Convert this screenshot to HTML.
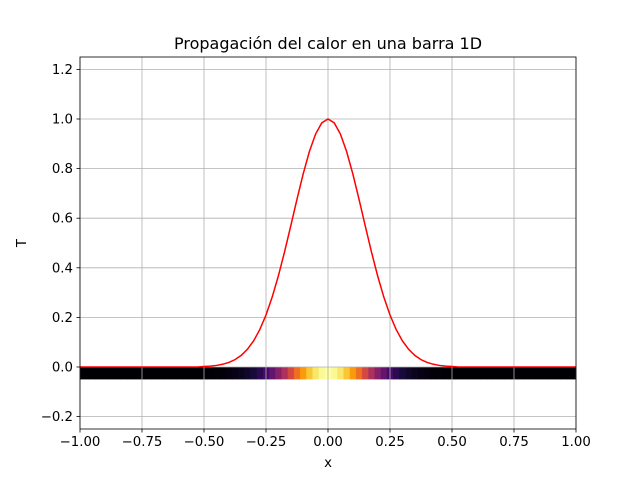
<!DOCTYPE html>
<html><head><meta charset="utf-8"><style>
body{margin:0;background:#fff;}
svg{font-family:"DejaVu Sans","Liberation Sans",sans-serif;}
</style></head><body>
<svg id="chart" width="640" height="480" viewBox="0 0 640 480">
<rect x="0" y="0" width="640" height="480" fill="#fff"/>
<g id="cells"></g>
<g id="grid"></g>
<g id="ticks"></g>
<polyline id="curve" fill="none" stroke="#ff0000" stroke-width="1.5"/>
<rect x="80" y="57" width="496" height="372" fill="none" stroke="#000" stroke-width="0.8"/>
<text x="328" y="49" text-anchor="middle" font-size="16">Propagación del calor en una barra 1D</text>
<text x="328" y="467" text-anchor="middle" font-size="13.3">x</text>
<text x="26" y="243" text-anchor="middle" font-size="13.3" transform="rotate(-90 26 243)">T</text>
</svg>
<script>
const xs = [];
const halfValues = [1,0.9845,0.9394,0.8688,0.7788,0.6766,0.5698,0.4650,0.3679,0.2821,0.2096,0.1510,0.1054,0.0713,0.0468,0.0297,0.0183,0.0109,0.0063,0.0036,0.0019];
const xTicks = [-1,-0.75,-0.5,-0.25,0,0.25,0.5,0.75,1];
const xTickLabels = ["−1.00","−0.75","−0.50","−0.25","0.00","0.25","0.50","0.75","1.00"];
const yTicks = [-0.2,0,0.2,0.4,0.6,0.8,1.0,1.2];
const yTickLabels = ["−0.2","0.0","0.2","0.4","0.6","0.8","1.0","1.2"];
// temperature values at x = -1..1 step 0.025
const temps = [];
for (let i = -40; i <= 40; i++) { xs.push(i*0.025); const k=Math.abs(i); temps.push(k<halfValues.length?halfValues[k]:0); }

const X = v => 80 + (v+1)/2*496;
const Y = v => 367 - v*248;
const NS = "http://www.w3.org/2000/svg";
function mk(tag, attrs, parent){const e=document.createElementNS(NS,tag);for(const k in attrs)e.setAttribute(k,attrs[k]);parent.appendChild(e);return e;}
const stops=["#000004","#160b39","#420a68","#6a176e","#932667","#bc3754","#dd513a","#f37819","#fca50a","#f6d746","#fcffa4"];
function hex(h){return [1,3,5].map(i=>parseInt(h.substr(i,2),16));}
function inferno(t){t=Math.max(0,Math.min(1,t));const p=t*10,i=Math.min(9,Math.floor(p)),f=p-i;const a=hex(stops[i]),b=hex(stops[i+1]);return "rgb("+a.map((v,j)=>Math.round(v+(b[j]-v)*f)).join(",")+")";}

const cells=document.getElementById('cells');
const dx=0.025;
temps.forEach((t,i)=>{
  const x0=Math.max(-1,xs[i]-dx/2), x1=Math.min(1,xs[i]+dx/2);
  const r=mk('rect',{x:X(x0),y:Y(0),width:X(x1)-X(x0)+0.5,height:Y(-0.05)-Y(0),fill:inferno(t)},cells);
  
  
});
const grid=document.getElementById('grid'), ticks=document.getElementById('ticks');
xTicks.forEach((v,i)=>{
  const g=mk('line',{x1:X(v),x2:X(v),y1:57,y2:429,stroke:'#b0b0b0','stroke-width':0.8},grid);
  
  
  mk('line',{x1:X(v),x2:X(v),y1:429,y2:432.5,stroke:'#000','stroke-width':0.8},ticks);
  const t=mk('text',{x:X(v),y:446,'text-anchor':'middle','font-size':13.3},ticks);
  t.textContent=xTickLabels[i];
  
  
});
yTicks.forEach((v,i)=>{
  const g=mk('line',{x1:80,x2:576,y1:Y(v),y2:Y(v),stroke:'#b0b0b0','stroke-width':0.8},grid);
  
  
  mk('line',{x1:76.5,x2:80,y1:Y(v),y2:Y(v),stroke:'#000','stroke-width':0.8},ticks);
  const t=mk('text',{x:73,y:Y(v)+4.5,'text-anchor':'end','font-size':13.3},ticks);
  t.textContent=yTickLabels[i];
  
  
});
document.getElementById('curve').setAttribute('points',xs.map((x,i)=>X(x)+","+Y(temps[i])).join(" "));
</script>
</body></html>
